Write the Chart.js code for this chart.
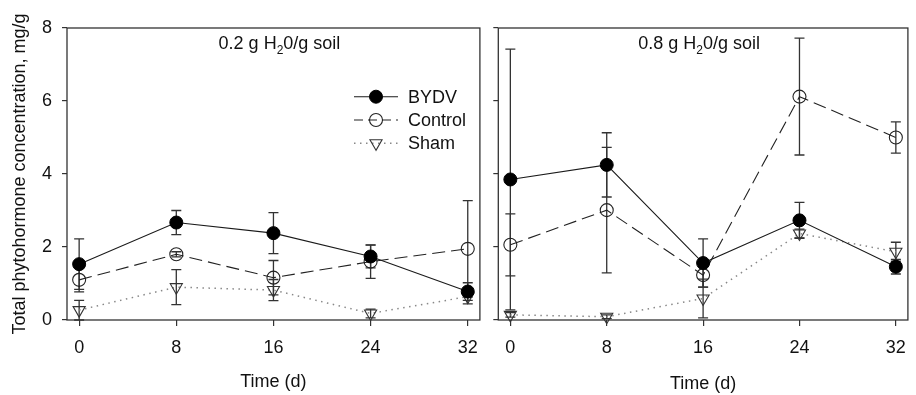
<!DOCTYPE html>
<html>
<head>
<meta charset="utf-8">
<script src="https://cdn.jsdelivr.net/npm/chart.js@4.4.1/dist/chart.umd.min.js"></script>
<style>
html, body { margin: 0; padding: 0; background: #fff; }
#wrap { position: relative; width: 916px; height: 395px; }
.panel { position: absolute; top: 0; height: 395px; }
#left { left: 0; width: 488px; }
#right { left: 488px; width: 428px; }
</style>
</head>
<body>
<div id="wrap">
    <div class="panel" id="left"><canvas id="chartDry"></canvas></div>
    <div class="panel" id="right"><canvas id="chartWet"></canvas></div>
</div>
<script>
// Hari pengamatan dan label sumbu.
const days = [0, 8, 16, 24, 32];
const xTicks = [0, 8, 16, 24, 32];
const yTicks = [0, 2, 4, 6, 8];
const seriesNames = ['BYDV', 'Control', 'Sham'];

// Panel kiri: 0.2 g H2O/g soil (rata-rata dan galat)
const dryBYDV = [1.53, 2.67, 2.38, 1.74, 0.78];
const dryBYDVErr = [0.69, 0.33, 0.56, 0.31, 0.24];
const dryControl = [1.10, 1.80, 1.16, 1.60, 1.95];
const dryControlErr = [0.33, 0.07, 0.47, 0.46, 1.32];
const drySham = [0.27, 0.90, 0.82, 0.18, 0.64];
const dryShamErr = [0.27, 0.48, 0.29, 0.12, 0.20];

// Panel kanan: 0.8 g H2O/g soil
const wetBYDV = [3.85, 4.25, 1.56, 2.73, 1.46];
const wetBYDVErr = [3.57, 0.88, 0.66, 0.49, 0.20];
const wetControl = [2.06, 3.01, 1.23, 6.12, 5.00];
const wetControlErr = [0.85, 1.72, 0.33, 1.60, 0.43];
const wetSham = [0.14, 0.09, 0.59, 2.37, 1.87];
const wetShamErr = [0.06, 0.05, 0.53, 0.12, 0.26];

const FONT = "'Liberation Sans', Arial, sans-serif";
const INK = '#111';

function toPoints(vals) {
    return days.map((d, i) => ({ x: d, y: vals[i] }));
}

function makeDatasets(b, bErr, c, cErr, s, sErr) {
    return [
        {
            label: seriesNames[0], data: toPoints(b), errors: bErr,
            borderColor: '#1a1a1a', borderWidth: 1.1,
            pointStyle: 'circle', pointRadius: 6.5,
            pointBackgroundColor: '#000', pointBorderColor: '#000', pointBorderWidth: 1,
            clip: 10, order: 1
        },
        {
            label: seriesNames[1], data: toPoints(c), errors: cErr,
            borderColor: '#222', borderWidth: 1.1, borderDash: [13, 6],
            pointStyle: 'circle', pointRadius: 6.5,
            pointBackgroundColor: 'rgba(0,0,0,0)', pointBorderColor: '#222', pointBorderWidth: 1.1,
            clip: 10, order: 2
        },
        {
            label: seriesNames[2], data: toPoints(s), errors: sErr,
            borderColor: '#888', borderWidth: 1.5, borderDash: [1.5, 4.5],
            pointStyle: 'triangle', pointRotation: 180, pointRadius: 7,
            pointBackgroundColor: 'rgba(0,0,0,0)', pointBorderColor: '#333', pointBorderWidth: 1.1,
            clip: 10, order: 3
        }
    ];
}

// Garis galat atas dan bawah untuk setiap titik.
const errorBars = {
    id: 'errorBars',
    beforeDatasetsDraw(chart) {
        const { ctx, scales: { x, y } } = chart;
        ctx.save();
        ctx.strokeStyle = '#333';
        ctx.lineWidth = 1.3;
        chart.data.datasets.forEach(ds => {
            ds.data.forEach((p, i) => {
                const e = ds.errors[i];
                const px = x.getPixelForValue(p.x);
                const top = y.getPixelForValue(p.y + e);
                const bot = y.getPixelForValue(Math.max(0, p.y - e));
                ctx.beginPath();
                ctx.moveTo(px, top); ctx.lineTo(px, bot);
                ctx.moveTo(px - 5, top); ctx.lineTo(px + 5, top);
                ctx.moveTo(px - 5, bot); ctx.lineTo(px + 5, bot);
                ctx.stroke();
            });
        });
        ctx.restore();
    }
};

// Bingkai kotak di sekeliling area grafik.
const frame = {
    id: 'frame',
    afterDraw(chart) {
        const a = chart.chartArea;
        const ctx = chart.ctx;
        ctx.save();
        ctx.strokeStyle = '#333';
        ctx.lineWidth = 1.3;
        ctx.strokeRect(a.left, a.top, a.right - a.left, a.bottom - a.top);
        ctx.restore();
    }
};

// Judul panel dengan subskrip pada H2O.
const panelTitle = {
    id: 'panelTitle',
    afterDraw(chart, args, opts) {
        const ctx = chart.ctx;
        const x0 = chart.chartArea.left + opts.dx;
        const y0 = 49;
        ctx.save();
        ctx.fillStyle = INK;
        ctx.textBaseline = 'alphabetic';
        ctx.font = '18px ' + FONT;
        const p1 = opts.prefix + ' g H';
        ctx.fillText(p1, x0, y0);
        let x = x0 + ctx.measureText(p1).width;
        ctx.font = '12px ' + FONT;
        ctx.fillText('2', x, y0 + 5);
        x += ctx.measureText('2').width;
        ctx.font = '18px ' + FONT;
        ctx.fillText('0/g soil', x, y0);
        ctx.restore();
    }
};

// Legenda manual dengan gaya garis dan penanda.
const legendBox = {
    id: 'legendBox',
    afterDraw(chart, args, opts) {
        if (!opts.show) return;
        const ctx = chart.ctx;
        const left = chart.chartArea.left + 287;
        const rows = [96.7, 120, 143.3];
        ctx.save();
        chart.data.datasets.forEach((ds, i) => {
            const y = rows[i];
            ctx.strokeStyle = ds.borderColor;
            ctx.lineWidth = ds.borderWidth;
            ctx.setLineDash(i === 1 ? [9, 5] : (ds.borderDash || []));
            ctx.beginPath();
            ctx.moveTo(left, y); ctx.lineTo(left + 44, y);
            ctx.stroke();
            ctx.setLineDash([]);
            ctx.fillStyle = ds.pointBackgroundColor;
            ctx.strokeStyle = ds.pointBorderColor;
            ctx.lineWidth = ds.pointBorderWidth;
            Chart.helpers.drawPoint(ctx, {
                pointStyle: ds.pointStyle, radius: ds.pointRadius,
                rotation: ds.pointRotation || 0, borderWidth: ds.pointBorderWidth
            }, left + 22, y);
            ctx.fillStyle = INK;
            ctx.font = '18px ' + FONT;
            ctx.textBaseline = 'middle';
            ctx.fillText(ds.label, left + 54, y + 1);
        });
        ctx.restore();
    }
};

function makeScales(showY, yWidth, xTitlePad) {
    return {
        x: {
            type: 'linear', min: -1, max: 33,
            afterBuildTicks: s => { s.ticks = xTicks.map(v => ({ value: v })); },
            afterFit: s => { s.height = 75; s.paddingLeft = 0; s.paddingRight = 0; },
            grid: { drawOnChartArea: false, drawTicks: true, tickLength: 6, color: '#333', lineWidth: 1.2 },
            border: { display: false },
            ticks: { color: INK, font: { size: 18, family: FONT }, padding: 11, maxRotation: 0 },
            title: { display: true, text: 'Time (d)', color: INK, font: { size: 18, family: FONT }, padding: { top: 0, bottom: xTitlePad } }
        },
        y: {
            type: 'linear', min: 0, max: 8,
            afterBuildTicks: s => { s.ticks = yTicks.map(v => ({ value: v })); },
            afterFit: s => { s.width = yWidth; s.paddingTop = 0; s.paddingBottom = 0; },
            grid: { drawOnChartArea: false, drawTicks: true, tickLength: 5, color: '#333', lineWidth: 1.2 },
            border: { display: false },
            ticks: { display: showY, color: INK, font: { size: 18, family: FONT }, padding: 10 },
            title: {
                display: showY, text: 'Total phytohormone concentration, mg/g',
                color: INK, font: { size: 18, family: FONT }, padding: { top: 9, bottom: 0 }
            }
        }
    };
}

function makeChart(id, datasets, opts) {
    return new Chart(document.getElementById(id), {
        type: 'line',
        data: { datasets: datasets },
        options: {
            responsive: true,
            maintainAspectRatio: false,
            animation: false,
            layout: { padding: { top: 28, right: opts.padRight, bottom: 0, left: 0 } },
            scales: makeScales(opts.showY, opts.yWidth, opts.xTitlePad),
            plugins: {
                legend: { display: false },
                tooltip: { enabled: false },
                panelTitle: { prefix: opts.prefix, dx: opts.titleDx },
                legendBox: { show: opts.showLegend }
            }
        },
        plugins: [errorBars, frame, panelTitle, legendBox]
    });
}

makeChart('chartDry',
    makeDatasets(dryBYDV, dryBYDVErr, dryControl, dryControlErr, drySham, dryShamErr),
    { showY: true, yWidth: 67, padRight: 3, xTitlePad: 2, prefix: '0.2', titleDx: 151.6, showLegend: true });

makeChart('chartWet',
    makeDatasets(wetBYDV, wetBYDVErr, wetControl, wetControlErr, wetSham, wetShamErr),
    { showY: false, yWidth: 10.3, padRight: 1, xTitlePad: 0, prefix: '0.8', titleDx: 140, showLegend: false });
</script>
</body>
</html>
